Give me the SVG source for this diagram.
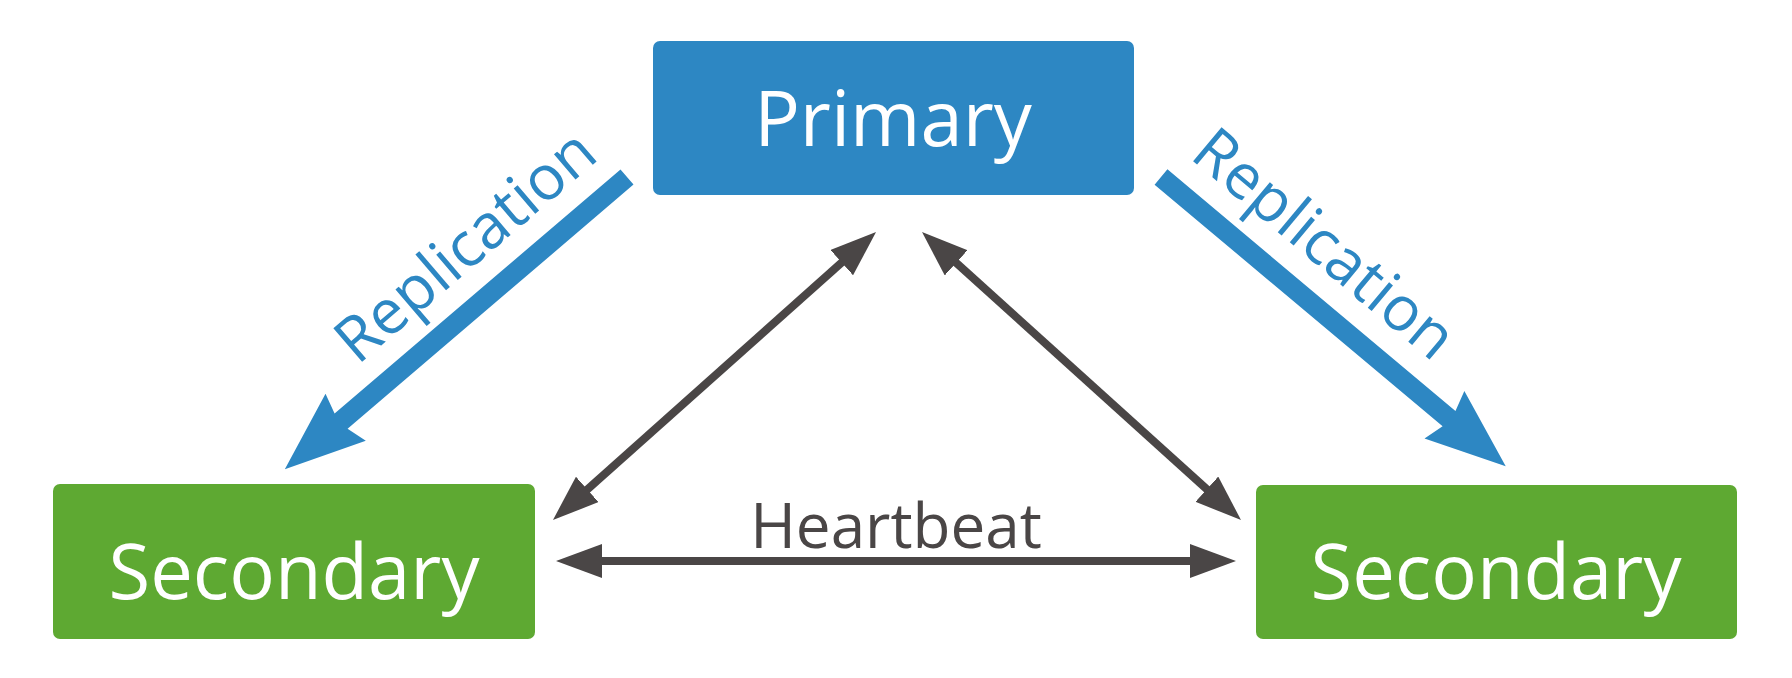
<svg xmlns="http://www.w3.org/2000/svg" xmlns:xlink="http://www.w3.org/1999/xlink" width="1792" height="678" viewBox="0 0 1792 678">
  <style>
    .primary { fill: #2d87c3; }
    .secondary { fill: #5ea932; }
    text { font-family: "Open Sans", "Noto Sans", sans-serif; font-weight: 400; font-style: normal; stroke: none; text-anchor: middle; }
    .nodeText { font-size: 76px; fill: #ffffff; }
    .repText { font-size: 62px; fill: #2d87c3; }
    .hbText { font-size: 62px; fill: #4a4646; }
    .hb { stroke: #4a4646; stroke-width: 8; fill: none; marker-start: url(#grayHead); marker-end: url(#grayHead); }
    .blueArrow { fill: #2d87c3; }
  </style>
  <defs>
    <marker id="grayHead" viewBox="0 0 46 34" markerWidth="46" markerHeight="34" markerUnits="userSpaceOnUse" refX="6" refY="17" orient="auto-start-reverse">
      <path d="M0,0 L46,17 L0,34 Z" fill="#4a4646"/>
    </marker>
    <path id="blueArrowShape" d="M0,-10 L376,-10 L370,-31 L450,0 L370,31 L376,10 L0,10 Z"/>
  </defs>
  <rect width="1792" height="678" fill="#ffffff"/>

  <g id="connectors">
    <use xlink:href="#blueArrowShape" href="#blueArrowShape" class="blueArrow" transform="translate(627,177) rotate(139.5)"/>
    <use xlink:href="#blueArrowShape" href="#blueArrowShape" class="blueArrow" transform="translate(1161,177) rotate(40)"/>
    <text class="repText" transform="translate(479,262) rotate(-40.5)">Replication</text>
    <text class="repText" transform="translate(1311,260) rotate(40)">Replication</text>
    <line class="hb" x1="846.2" y1="258.6" x2="582.8" y2="493.4"/>
    <line class="hb" x1="951.7" y1="258.8" x2="1211.3" y2="493.2"/>
    <line class="hb" x1="596" y1="561" x2="1196" y2="561"/>
    <text class="hbText" x="896" y="548">Heartbeat</text>
  </g>

  <g id="primary">
    <rect class="primary" x="653" y="41" width="481" height="154" rx="7"/>
    <text class="nodeText" x="893" y="146">Primary</text>
  </g>
  <g id="secondary-left">
    <rect class="secondary" x="53" y="484" width="482" height="155" rx="7"/>
    <text class="nodeText" x="294" y="599">Secondary</text>
  </g>
  <g id="secondary-right">
    <rect class="secondary" x="1256" y="485" width="481" height="154" rx="7"/>
    <text class="nodeText" x="1496" y="599">Secondary</text>
  </g>
</svg>
